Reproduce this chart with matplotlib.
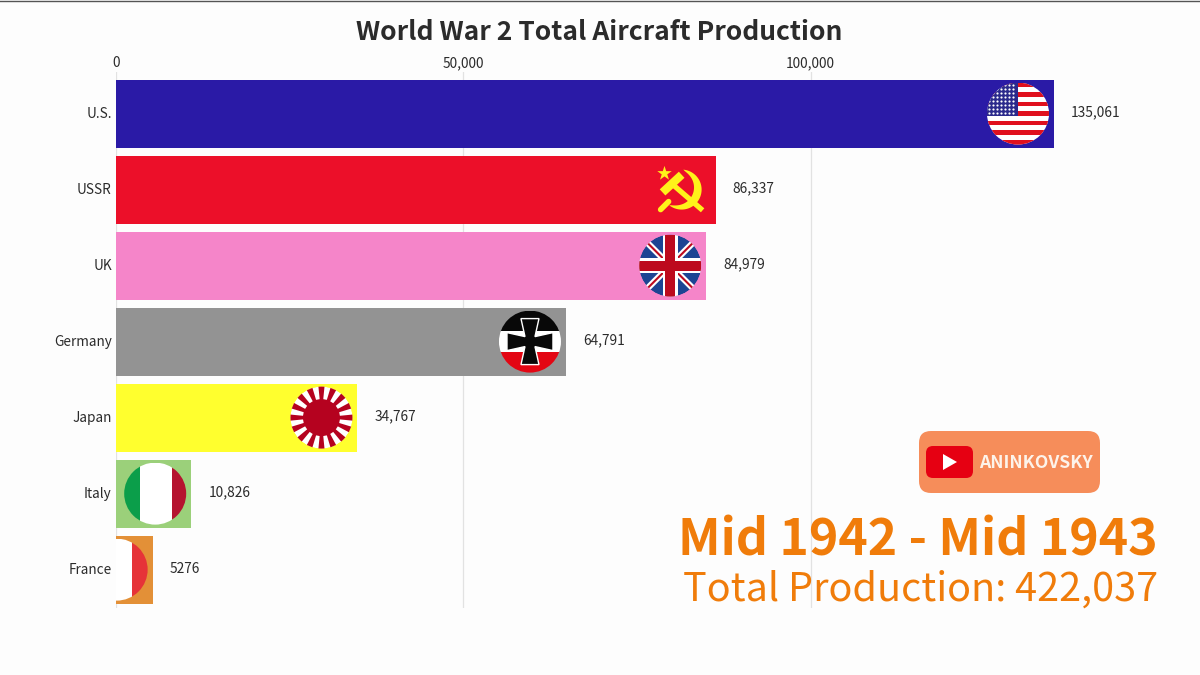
import numpy as np
import matplotlib
matplotlib.use("Agg")
import matplotlib.pyplot as plt
from matplotlib.patches import Circle, Rectangle, Polygon, FancyBboxPatch
from matplotlib.transforms import ScaledTranslation

plt.rcParams['font.family'] = ['Noto Sans CJK SC', 'DejaVu Sans']

countries = ["U.S.", "USSR", "UK", "Germany", "Japan", "Italy", "France"]
production = [135061, 86337, 84979, 64791, 34767, 10826, 5276]
value_labels = ["135,061", "86,337", "84,979", "64,791", "34,767", "10,826", "5276"]
bar_colors = ["#2a1aa6", "#ec0f29", "#f585c9", "#939393", "#ffff2e", "#9bd07a", "#e39037"]
x_ticks = [0, 50000, 100000]
x_tick_labels = ["0", "50,000", "100,000"]

title = "World War 2 Total Aircraft Production"
period = "Mid 1942 - Mid 1943"
total = "Total Production: 422,037"
channel = "ANINKOVSKY"

W, H = 1200, 675
ORANGE = "#f07c0a"
TEXT = "#2b2b2b"

fig = plt.figure(figsize=(12, 6.75), dpi=100, facecolor="#fdfdfd")

# main chart, position given in pixels of the 1200x675 frame
left, right, top, bottom = 116, 1176, 72, 608
ax = fig.add_axes([left / W, 1 - bottom / H, (right - left) / W, (bottom - top) / H])
ax.set_facecolor("none")
ax.barh(range(len(countries)), production, height=68 / 76, color=bar_colors, zorder=2)
ax.set_xlim(0, (right - left) / 0.006945)
ax.set_ylim(6.505, -0.547)
ax.set_yticks(range(len(countries)))
ax.set_yticklabels(countries, fontsize=9.8, color=TEXT)
ax.xaxis.tick_top()
ax.set_xticks(x_ticks)
ax.set_xticklabels(x_tick_labels, fontsize=9.8, color=TEXT)
ax.tick_params(length=0, pad=3)
ax.tick_params(axis="x", pad=1.5)
ax.grid(axis="x", color="#e2e2e2", lw=0.9, zorder=0)
for s in ax.spines.values():
    s.set_visible(False)
up = ScaledTranslation(0, 1.5 / 100, fig.dpi_scale_trans)
for lab in ax.get_yticklabels():
    lab.set_transform(lab.get_transform() + up)

for i, lab in enumerate(value_labels):
    ax.annotate(lab, (production[i], i), xytext=(12.3, 0.8), textcoords="offset points",
                va="center", ha="left", fontsize=9.9, color=TEXT)

# overlay in pixel coordinates for flags, badge and big text
fx = fig.add_axes([0, 0, 1, 1], facecolor="none")
fx.set_xlim(0, W)
fx.set_ylim(H, 0)
fx.axis("off")


def flag_centre(i, shift=-36):
    x, y = ax.transData.transform((production[i], i))
    return x + shift, H - y


def rect(x, y, w, h, c, z=5):
    return fx.add_patch(Rectangle((x, y), w, h, fc=c, lw=0, zorder=z))


def clip_all(artists, cx, cy, r):
    clip = Circle((cx, cy), r, transform=fx.transData)
    for a in artists:
        a.set_clip_path(clip)


def usa(cx, cy, r=31):
    arts = [rect(cx - r, cy - r, 2 * r, 2 * r, "white")]
    stripe = 2 * r / 13
    for k in range(0, 13, 2):
        arts.append(rect(cx - r, cy - r + k * stripe, 2 * r, stripe, "#e0101e", 6))
    arts.append(rect(cx - r, cy - r, r, 7 * stripe, "#2b2a8c", 7))
    sx, sy = np.meshgrid(np.arange(cx - r + 2, cx - 1, 4), np.arange(cy - r + 2, cy - r + 7 * stripe - 1, 4))
    arts.append(fx.scatter(sx.ravel(), sy.ravel(), s=2.5, color="white", lw=0, zorder=8))
    clip_all(arts, cx, cy, r)


def ussr(cx, cy):
    cx += 2
    y = "#fff21a"
    t = np.radians(np.linspace(-85, 128, 50))
    frac = (t - t[0]) / (t[-1] - t[0])
    r_in = 20 - 8 * np.sin(np.pi * frac) ** 0.7
    outer = np.c_[cx + 20 * np.cos(t), cy + 20 * np.sin(t)]
    inner = np.c_[cx + r_in * np.cos(t), cy + r_in * np.sin(t)]
    fx.add_patch(Polygon(np.r_[outer, inner[::-1]], fc=y, lw=0, zorder=5))
    fx.plot([cx - 21, cx - 13], [cy + 20, cy + 12], color=y, lw=4, solid_capstyle="round", zorder=5)
    fx.plot([cx - 10, cx + 19], [cy - 6, cy + 19], color=y, lw=3.8, zorder=6)
    fx.plot([cx - 16, cx - 3], [cy, cy - 12], color=y, lw=6, zorder=6)
    fx.scatter([cx - 18], [cy - 17], marker="*", s=120, color=y, lw=0, zorder=6)


def uk(cx, cy, r=31):
    blue, red = "#1d4493", "#bd0a1e"
    arts = [fx.add_patch(Circle((cx, cy), r, fc=blue, lw=0, zorder=5))]
    for sign in (1, -1):
        arts += fx.plot([cx - r, cx + r], [cy - sign * r, cy + sign * r], color="white", lw=4.5, zorder=6)
        arts += fx.plot([cx - r, cx + r], [cy - sign * r, cy + sign * r], color=red, lw=1.5, zorder=7)
    arts.append(rect(cx - r, cy - 7.5, 2 * r, 15, "white", 8))
    arts.append(rect(cx - 7.5, cy - r, 15, 2 * r, "white", 8))
    arts.append(rect(cx - r, cy - 5, 2 * r, 10, red, 9))
    arts.append(rect(cx - 5, cy - r, 10, 2 * r, red, 9))
    clip_all(arts, cx, cy, r)


def germany(cx, cy, r=31):
    arts = [rect(cx - r, cy - r, 2 * r, 2 * r / 3, "#080808"),
            rect(cx - r, cy - r / 3, 2 * r, 2 * r / 3, "white"),
            rect(cx - r, cy + r / 3, 2 * r, 2 * r / 3, "#e30613")]
    clip_all(arts, cx, cy, r)
    arm = [(-5, -5), (-9, -23), (9, -23), (5, -5), (23, -9), (23, 9), (5, 5), (9, 23), (-9, 23), (-5, 5), (-23, 9), (-23, -9)]
    pts = np.array(arm, dtype=float) + (cx, cy)
    fx.add_patch(Polygon(pts, fc="#080808", ec="white", lw=1, zorder=6))


def japan(cx, cy, r=31):
    red = "#b5021f"
    arts = [fx.add_patch(Circle((cx, cy), r, fc="white", lw=0, zorder=5))]
    for a in np.arange(0, 360, 22.5):
        a0, a1 = np.radians(a - 5.6), np.radians(a + 5.6)
        arts.append(fx.add_patch(Polygon([(cx, cy), (cx + 34 * np.cos(a0), cy + 34 * np.sin(a0)),
                                          (cx + 34 * np.cos(a1), cy + 34 * np.sin(a1))], fc=red, lw=0, zorder=6)))
    arts.append(fx.add_patch(Circle((cx, cy), 18.5, fc=red, lw=0, zorder=7)))
    clip_all(arts, cx, cy, r)


def italy(cx, cy, r=31):
    arts = [rect(cx - r, cy - r, r / 2, 2 * r, "#0b9e4a"),
            rect(cx - r / 2, cy - r, r + 1, 2 * r, "white"),
            rect(cx + r / 2 + 1, cy - r, r / 2, 2 * r, "#b5132f")]
    clip_all(arts, cx, cy, r)


def france(cx, cy, r=31):
    # disc is cut by the left edge of the bar
    arts = [rect(left, cy - r, 16, 2 * r, "white"),
            rect(left + 16, cy - r, r, 2 * r, "#e63338")]
    clip_all(arts, cx, cy, r)


painters = [usa, ussr, uk, germany, japan, italy, france]
for i, paint in enumerate(painters):
    cx, cy = flag_centre(i)
    paint(cx, cy)

# youtube badge
fx.add_patch(FancyBboxPatch((919, 431), 181, 62, boxstyle="round,pad=0,rounding_size=12",
                            fc="#f68d5a", lw=0, zorder=3))
fx.add_patch(FancyBboxPatch((926, 446), 47, 32, boxstyle="round,pad=0,rounding_size=7",
                            fc="#e60012", lw=0, zorder=4))
fx.add_patch(Polygon([(943, 454), (943, 470), (957, 462)], fc="white", lw=0, zorder=5))
fx.text(1035.5, 463.5, channel, ha="center", va="center", fontsize=12.7, fontweight="bold", color="#fdf3ea", zorder=5)

fx.text(599.5, 32.5, title, ha="center", va="center", fontsize=19, fontweight="bold", color=TEXT)
fx.text(1158, 541, period, ha="right", va="center", fontsize=36, fontweight="bold", color=ORANGE, zorder=6)
fx.text(1158, 590, total, ha="right", va="center", fontsize=28.5, color=ORANGE, zorder=6)

# thin dark line along the top of the frame
fx.plot([0, W], [0.5, 0.5], color="#555555", lw=1)

fig.savefig("out.png", dpi=100, facecolor=fig.get_facecolor())
